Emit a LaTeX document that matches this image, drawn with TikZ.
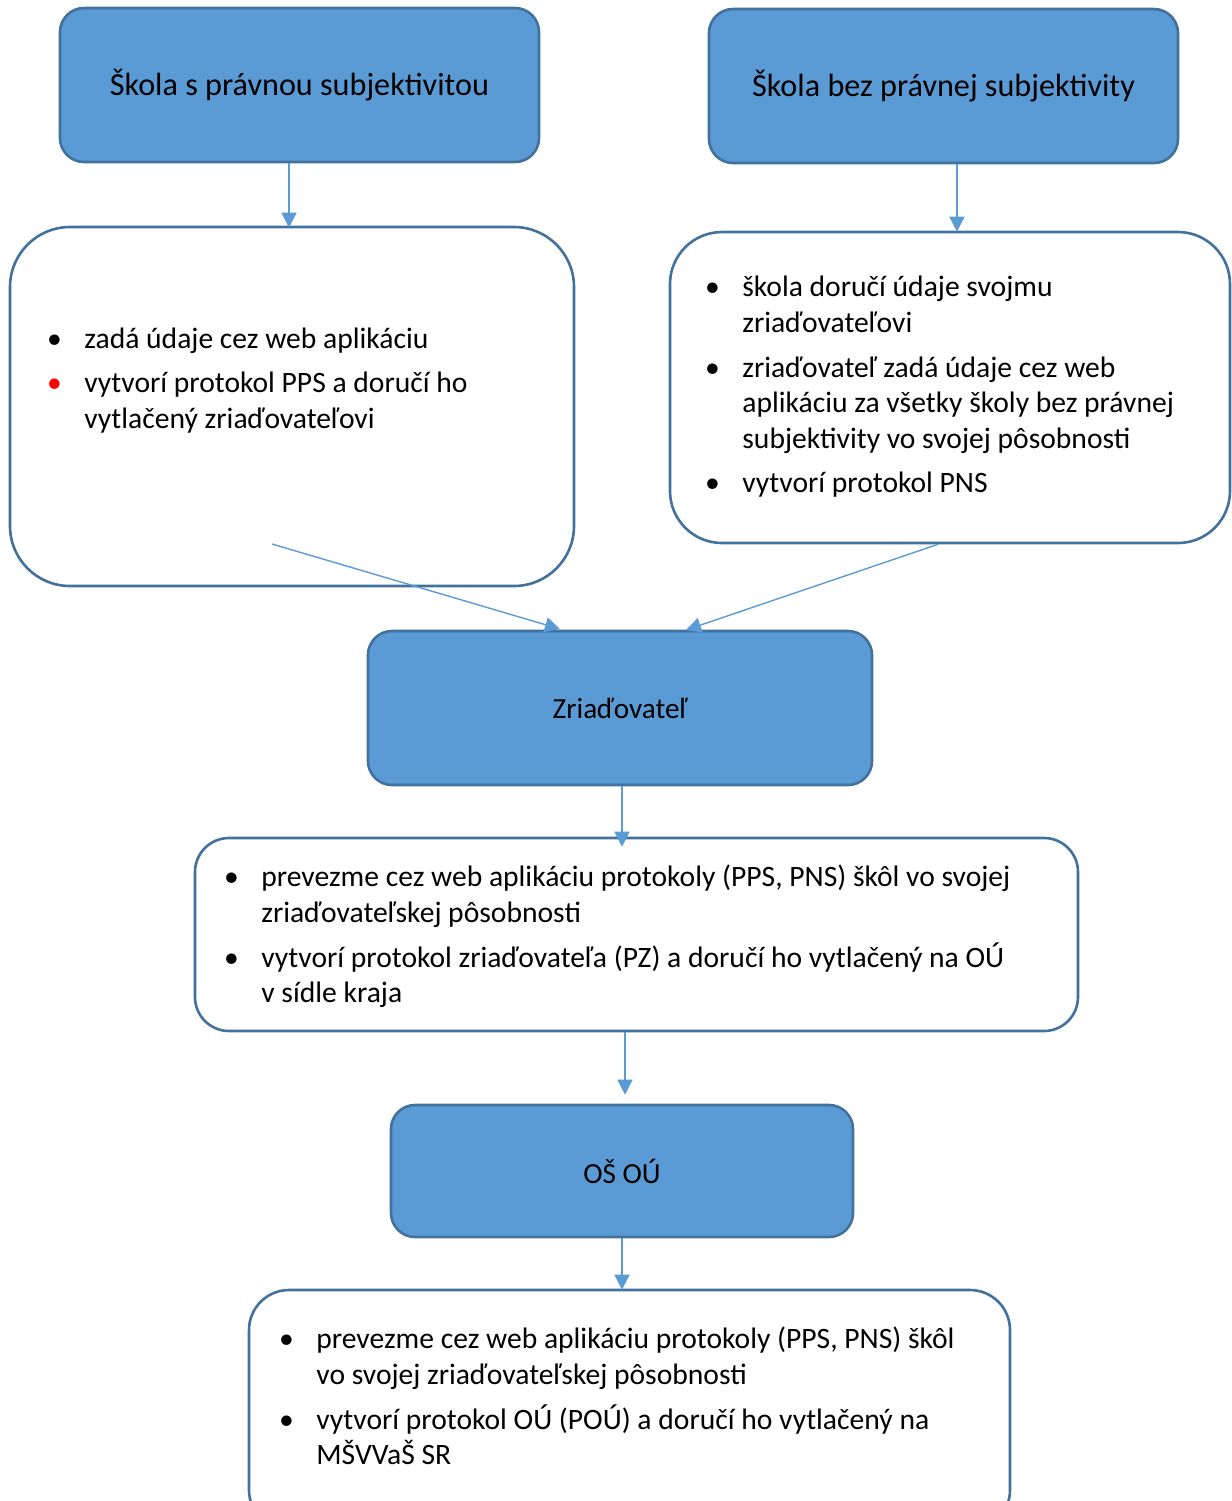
\documentclass[tikz,border=0pt]{standalone}
\usepackage{fontspec}
\setmainfont{Carlito}
\usetikzlibrary{arrows.meta}
\definecolor{boxblue}{HTML}{5B9BD5}
\definecolor{edgeblue}{HTML}{41719C}
\newcommand\bl{\makebox[18pt][l]{\hspace{-0.6pt}•}}
\newcommand\rbl{\makebox[18pt][l]{\hspace{-0.6pt}\textcolor{red}{•}}}
\begin{document}
\begin{tikzpicture}[x=0.5pt,y=-0.5pt,
  bluebox/.style={draw=edgeblue, fill=boxblue, line width=1.3pt, rounded corners=12pt, inner sep=0pt, font=\fontsize{14.6pt}{17.8pt}\selectfont},
  titlebox/.style={bluebox, font=\fontsize{16.1pt}{19pt}\selectfont},
  whitebox/.style={draw=edgeblue, fill=white, line width=1.3pt, inner sep=0pt},
  txt/.style={anchor=north west, inner sep=0pt, font=\fontsize{14.8pt}{17.8pt}\selectfont},
  arr/.style={draw=boxblue, line width=0.7pt, -{Triangle[width=7.5pt,length=7.5pt]}, color=boxblue}]
\useasboundingbox (0,0) rectangle (1232,1501);
% boxes
\node[titlebox, minimum width=239.5pt, minimum height=77pt] (A) at (299.5,85) {Škola s právnou subjektivitou};
\node[titlebox, minimum width=234.5pt, minimum height=77pt] (B) at (943.5,86) {Škola bez právnej subjektivity};
\node[whitebox, rounded corners=30pt, minimum width=282pt, minimum height=179.5pt] (C) at (292,406.5) {};
\node[whitebox, rounded corners=26pt, minimum width=280pt, minimum height=155.5pt] (D) at (950,387.5) {};
\node[bluebox, minimum width=252pt, minimum height=77pt] (E) at (620,708) {Zriaďovateľ};
\node[whitebox, rounded corners=17pt, minimum width=441.5pt, minimum height=96.5pt] (F) at (636.5,934.5) {};
\node[bluebox, minimum width=231pt, minimum height=66pt] (G) at (622,1171) {OŠ OÚ};
\node[whitebox, rounded corners=20pt, minimum width=380.5pt, minimum height=120pt] (H) at (629.5,1410) {};
% texts
\node[txt] (Ct) at (48,323) {\begin{tabular}{@{}l@{}l@{}}
\bl & zadá údaje cez web aplikáciu\\[4.5pt]
\rbl & vytvorí protokol PPS a doručí ho\\
 & vytlačený zriaďovateľovi
\end{tabular}};
\node[txt] (Dt) at (706,271.5) {\begin{tabular}{@{}l@{}l@{}}
\bl & škola doručí údaje svojmu\\
 & zriaďovateľovi\\[4.5pt]
\bl & zriaďovateľ zadá údaje cez web\\
 & aplikáciu za všetky školy bez právnej\\
 & subjektivity vo svojej pôsobnosti\\[4.5pt]
\bl & vytvorí protokol PNS
\end{tabular}};
\node[txt] (Ft) at (225,861.5) {\begin{tabular}{@{}l@{}l@{}}
\bl & prevezme cez web aplikáciu protokoly (PPS, PNS) škôl vo svojej\\
 & zriaďovateľskej pôsobnosti\\[4.5pt]
\bl & vytvorí protokol zriaďovateľa (PZ) a doručí ho vytlačený na OÚ\\
 & v sídle kraja
\end{tabular}};
\node[txt] (Ht) at (280,1323.5) {\begin{tabular}{@{}l@{}l@{}}
\bl & prevezme cez web aplikáciu protokoly (PPS, PNS) škôl\\
 & vo svojej zriaďovateľskej pôsobnosti\\[4.5pt]
\bl & vytvorí protokol OÚ (POÚ) a doručí ho vytlačený na\\
 & MŠVVaŠ SR
\end{tabular}};
% connector anchors
\coordinate (xac) at (289,0);
\coordinate (xbd) at (957,0);
\coordinate (c1) at (272,544);
\coordinate (e1) at (560,629);
\coordinate (xd) at (938,0);
\coordinate (e2) at (686,630);
\coordinate (xef) at (622,0);
\coordinate (xfg) at (625,0);
\coordinate (xgh) at (622,0);
% connectors
\draw[arr] (A.south -| xac) -- ([yshift=-1pt]C.north -| xac);
\draw[arr] (B.south -| xbd) -- ([yshift=-0.5pt]D.north -| xbd);
\draw[arr] (c1) -- (e1);
\draw[arr] (D.south -| xd) -- (e2);
\draw[arr] (E.south -| xef) -- ([yshift=-5pt]F.north -| xef);
\draw[arr] (F.south -| xfg) -- ([yshift=4.5pt]G.north -| xfg);
\draw[arr] (G.south -| xgh) -- ([yshift=-0.5pt]H.north -| xgh);
\end{tikzpicture}
\end{document}
